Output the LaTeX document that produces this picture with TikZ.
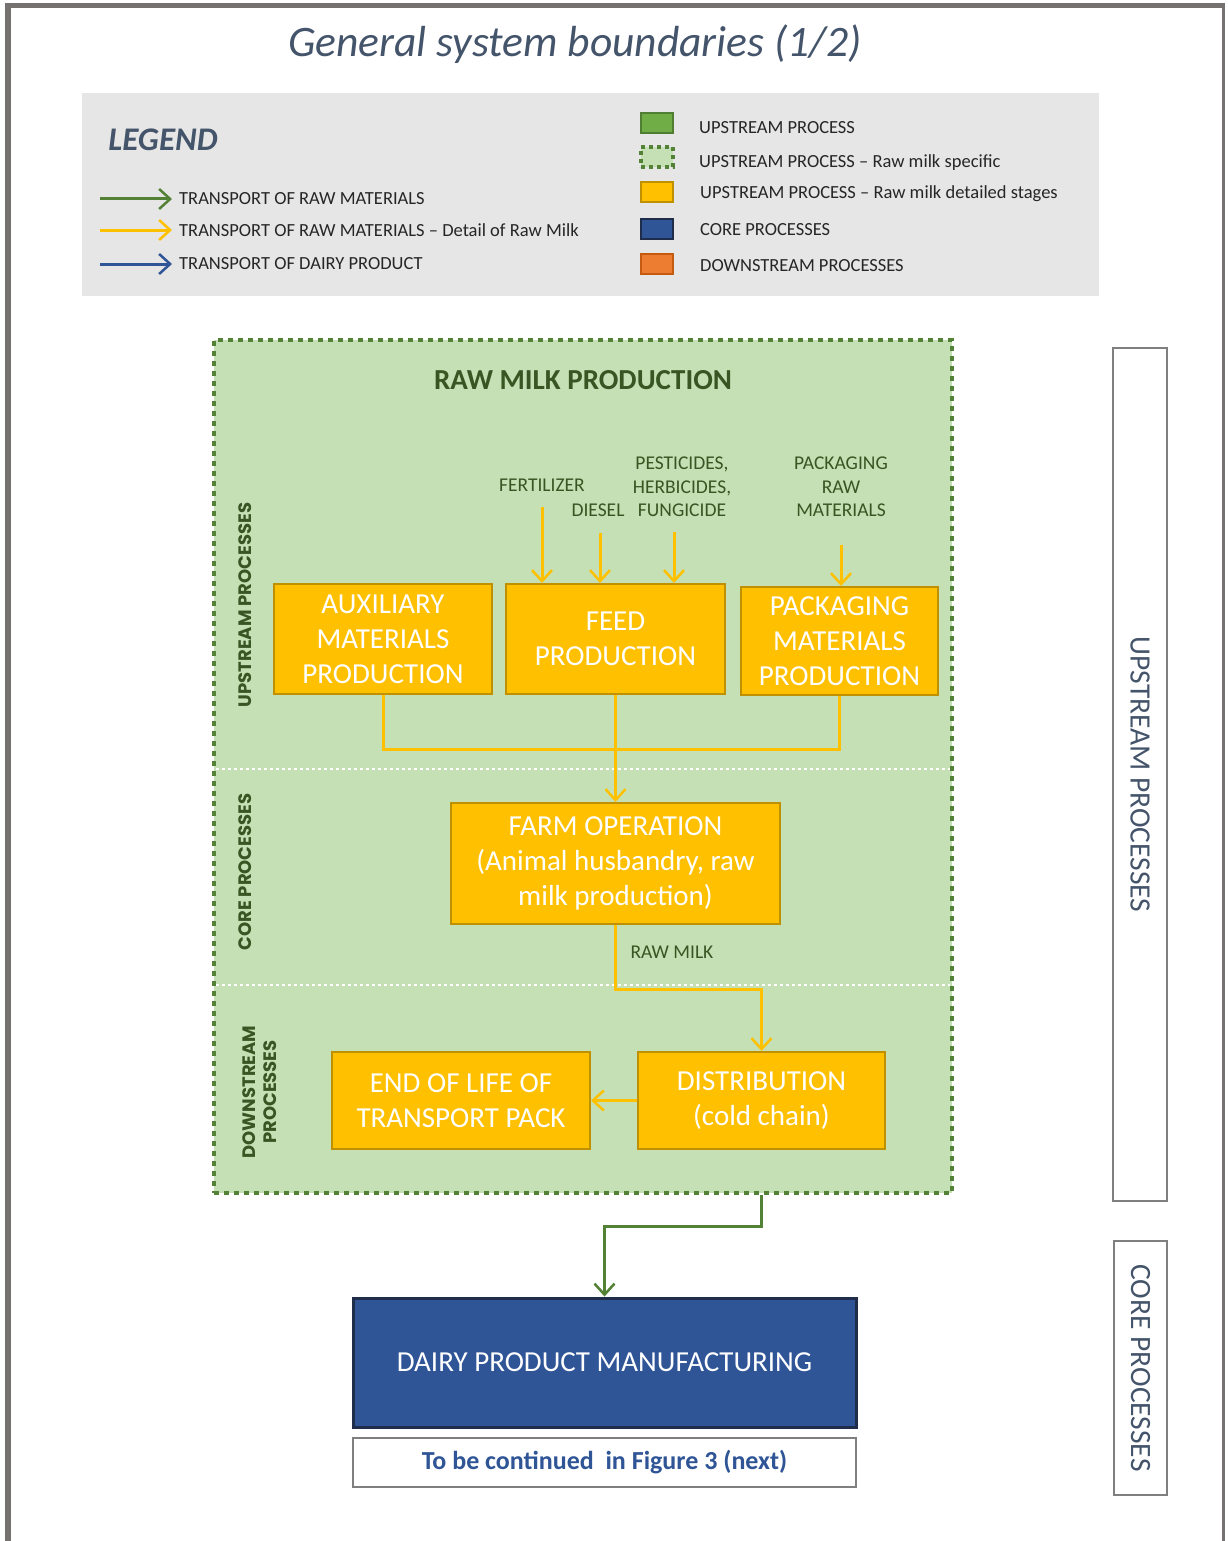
\documentclass[tikz,border=0pt]{standalone}
\usepackage{fontspec}
\setmainfont{Carlito}
\newfontfamily\gothicfont{Poppins}
\usepackage{xcolor}
\usetikzlibrary{arrows.meta}
\definecolor{titleSlate}{HTML}{44546A}
\definecolor{legendGray}{HTML}{E7E6E6}
\definecolor{frameGray}{HTML}{767171}
\definecolor{boxGray}{HTML}{7F7F7F}
\definecolor{milkFill}{HTML}{C5E0B4}
\definecolor{milkLine}{HTML}{538135}
\definecolor{darkGreen}{HTML}{375623}
\definecolor{stageYellow}{HTML}{FFC000}
\definecolor{stageLine}{HTML}{BF9000}
\definecolor{upGreen}{HTML}{70AD47}
\definecolor{upLine}{HTML}{507E32}
\definecolor{coreBlue}{HTML}{2F5597}
\definecolor{coreLine}{HTML}{1F2D4A}
\definecolor{downOrange}{HTML}{ED7D31}
\definecolor{downLine}{HTML}{C55A11}
\definecolor{inkBlack}{HTML}{262626}
\tikzstyle{myStage}=[draw=stageLine, fill=stageYellow, line width=2pt, text=white, align=center, font=\fontsize{29}{35}\selectfont]
\tikzstyle{myInput}=[text=darkGreen, align=center, font=\fontsize{19.5}{23.5}\selectfont]
\tikzstyle{mySide}=[text=darkGreen, align=center, rotate=90, font=\gothicfont\bfseries\fontsize{18}{21}\selectfont]
\tikzstyle{myBand}=[draw=boxGray, fill=white, line width=2pt, rotate=-90, text=titleSlate, font=\fontsize{29.5}{32}\selectfont]
\tikzstyle{myKey}=[minimum width=32pt, minimum height=20pt, line width=2pt]
\tikzstyle{myKeyText}=[anchor=west, inner sep=0pt, text=inkBlack, font=\fontsize{18.5}{20}\selectfont]
\tikzstyle{myPath}=[-{Straight Barb[length=11pt,width=20pt,line width=2.5pt]}, line width=3pt]
\tikzstyle{myDivider}=[white, line width=2pt, dash pattern=on 3pt off 3pt]

\begin{document}
\begin{tikzpicture}[x=1pt, y=-1pt]
   \fill[white] (0,0) rectangle (1227,1541);
   \useasboundingbox (0,0) rectangle (1227,1541);
   \draw[frameGray, line width=6pt] (8,1541) -- (8,3);
   \draw[frameGray, line width=5pt] (5,5.5) -- (1225,5.5);
   \draw[frameGray, line width=3pt] (1223.5,3) -- (1223.5,1541);

   \node[text=titleSlate, font=\itshape\fontsize{43.5}{50}\selectfont] (title) at (575,44) {General system boundaries (1/2)};

   % Legend
   \node[fill=legendGray, minimum width=1017pt, minimum height=203pt] (legend) at (590.5,194.5) {};
   \node[text=titleSlate, font=\bfseries\itshape\fontsize{33}{38}\selectfont] (legendTitle) at (163,140) {LEGEND};
   \node[myKeyText] (keyRaw) at (179,199) {TRANSPORT OF RAW MATERIALS};
   \node[myKeyText] (keyMilk) at (179,230) {TRANSPORT OF RAW MATERIALS -- Detail of Raw Milk};
   \node[myKeyText] (keyDairy) at (179,264) {TRANSPORT OF DAIRY PRODUCT};
   \draw[myPath, milkLine] ([xshift=-79pt]keyRaw.west) -- ([xshift=-7pt]keyRaw.west);
   \draw[myPath, stageYellow] ([xshift=-79pt]keyMilk.west) -- ([xshift=-7pt]keyMilk.west);
   \draw[myPath, coreBlue] ([xshift=-79pt]keyDairy.west) -- ([xshift=-7pt]keyDairy.west);
   \node[myKey, draw=upLine, fill=upGreen] (keyUp) at (657,123.5) {};
   \node[myKey, draw=milkLine, fill=milkFill, dash pattern=on 4pt off 4pt, line width=3.5pt] (keyUpMilk) at (657,157) {};
   \node[myKey, draw=stageLine, fill=stageYellow] (keyStage) at (657,192) {};
   \node[myKey, draw=coreLine, fill=coreBlue] (keyCore) at (657,229) {};
   \node[myKey, draw=downLine, fill=downOrange] (keyDown) at (657,264) {};
   \node[myKeyText] (txtUp) at (699,128) {UPSTREAM PROCESS};
   \node[myKeyText] (txtUpMilk) at (699,163) {UPSTREAM PROCESS -- Raw milk specific};
   \node[myKeyText] (txtStage) at (700,194) {UPSTREAM PROCESS -- Raw milk detailed stages};
   \node[myKeyText] (txtCore) at (700,230) {CORE PROCESSES};
   \node[myKeyText] (txtDown) at (700,266) {DOWNSTREAM PROCESSES};

   % Raw milk production
   \node[draw=milkLine, fill=milkFill, line width=4pt, dash pattern=on 5pt off 5pt, minimum width=738pt, minimum height=853pt] (rawMilk) at (583,766.5) {};
   \node[text=darkGreen, font=\bfseries\fontsize{29}{34}\selectfont] (rawTitle) at (583,380) {RAW MILK PRODUCTION};
   \coordinate (divUpL) at (216,769);
   \coordinate (divUpR) at (950,769);
   \coordinate (divDownL) at (216,985);
   \coordinate (divDownR) at (950,985);
   \draw[myDivider] (divUpL) -- (divUpR);
   \draw[myDivider] (divDownL) -- (divDownR);
   \node[mySide] (sideUp) at (245,605) {UPSTREAM PROCESSES};
   \node[mySide] (sideCore) at (245,872) {CORE PROCESSES};
   \node[mySide] (sideDown) at (260,1092) {DOWNSTREAM\\PROCESSES};

   \node[myInput] (fert) at (542,485) {FERTILIZER};
   \node[myInput] (diesel) at (598,510) {DIESEL};
   \node[myInput] (pest) at (682,487) {PESTICIDES,\\HERBICIDES,\\FUNGICIDE};
   \node[myInput] (packRaw) at (841,487) {PACKAGING\\RAW\\MATERIALS};

   \node[myStage, minimum width=218pt, minimum height=110pt] (aux) at (383,639) {AUXILIARY\\MATERIALS\\PRODUCTION};
   \node[myStage, minimum width=219pt, minimum height=110pt] (feed) at (615.5,639) {FEED\\PRODUCTION};
   \node[myStage, minimum width=197pt, minimum height=108pt] (pack) at (839.5,641) {PACKAGING\\MATERIALS\\PRODUCTION};
   \node[myStage, minimum width=329pt, minimum height=121pt] (farm) at (615.5,863.5) {FARM OPERATION\\(Animal husbandry, raw\\milk production)};
   \node[myStage, minimum width=258pt, minimum height=97pt] (eol) at (461,1100.5) {END OF LIFE OF\\TRANSPORT PACK};
   \node[myStage, minimum width=247pt, minimum height=97pt] (dist) at (761.5,1100.5) {DISTRIBUTION\\(cold chain)};
   \node[myInput, anchor=west] (rawMilkLbl) at (627,952) {RAW MILK};

   % Draw the flows between the stages
   \draw[myPath, stageYellow] ([yshift=-12pt]fert.south) -- (fert.south |- feed.north);
   \draw[myPath, stageYellow] ([xshift=2pt,yshift=-13pt]diesel.south) coordinate (dieselTop) -- (dieselTop |- feed.north);
   \draw[myPath, stageYellow] ([xshift=-8pt,yshift=-12pt]pest.south) coordinate (pestTop) -- (pestTop |- feed.north);
   \draw[myPath, stageYellow] ([yshift=-25pt]packRaw.south) -- (packRaw.south |- pack.north);
   \coordinate (merge) at (615.5,749);
   \draw[stageYellow, line width=3pt] (aux.south) |- (merge) -| (pack.south);
   \draw[myPath, stageYellow] (feed.south) -- (farm.north);
   \draw[myPath, stageYellow] (farm.south) -- ++(0,64) -| (dist.north);
   \draw[myPath, stageYellow] (dist.west) -- (eol.east);

   % Dairy product
   \node[draw=coreLine, fill=coreBlue, line width=3pt, text=white, minimum width=503pt, minimum height=129pt, font=\fontsize{29}{34}\selectfont] (dairy) at (604.5,1362.5) {DAIRY PRODUCT MANUFACTURING};
   \node[draw=boxGray, line width=2.5pt, text=coreBlue, minimum width=503pt, minimum height=49pt, font=\bfseries\fontsize{26}{30}\selectfont] (nextFig) at (604.5,1462.5) {To be continued\ \ in Figure 3 (next)};
   \draw[myPath, milkLine] (dist.south |- rawMilk.south) -- ++(0,31) -| (dairy.north);

   \node[myBand, minimum width=853pt, minimum height=54pt] (bandUp) at (1140,774.5) {UPSTREAM PROCESSES};
   \node[myBand, minimum width=254pt, minimum height=53pt] (bandCore) at (1140.5,1368) {CORE PROCESSES};

\end{tikzpicture}
\end{document}
